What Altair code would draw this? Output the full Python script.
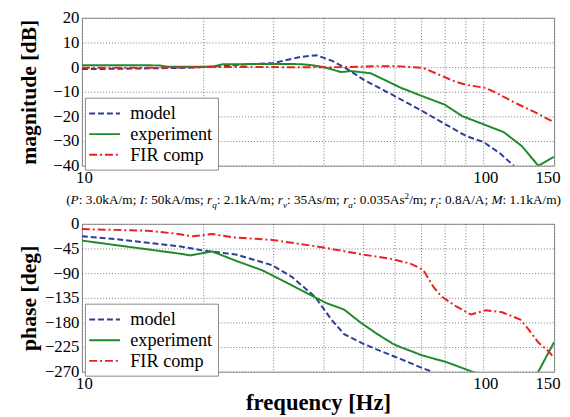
import altair as alt
import pandas as pd

# ---------------- data ----------------
series_names = ["model", "experiment", "FIR comp"]
series_colors = ["#2c3f98", "#1f8a2e", "#e8231f"]
series_dashes = [[6, 3], [1, 0], [8, 3, 2, 3]]

# magnitude [dB]
mag_model_f = [10, 12, 15, 18, 20, 25, 30, 35, 38.4, 42, 45, 50.4, 59.7, 70.7, 80, 90.7, 100, 110, 119]
mag_model_v = [-0.8, -0.7, -0.5, -0.3, 0, 1.0, 1.7, 4.1, 4.8, 2.5, 0, -5.2, -11.5, -18, -23, -28, -30.4, -35, -40]

mag_exp_f = [10, 15.5, 16.5, 21, 22.5, 25, 30, 35, 37.3, 40, 44.2, 46.8, 52.4, 58.6, 62.1, 70.7, 80, 88.6, 103, 112.4, 124.5, 137, 150]
mag_exp_v = [0.8, 0.7, 0.1, 0.1, 1.2, 1.2, 1.3, 1.2, 0.8, 0, -2, -1.6, -2.5, -6.3, -8.3, -11.9, -15.2, -19.9, -24, -26.4, -32, -40, -36.4]

mag_fir_f = [10, 15, 20, 25, 30, 38.8, 45, 50, 55, 62, 70.7, 77.8, 85, 90.7, 101.6, 107.4, 120, 134.7, 150]
mag_fir_v = [-0.3, -0.3, 0, 0, 0, -0.1, 0, 0.2, 0.4, 0.3, -0.3, -3.2, -5.9, -7.2, -8.5, -10.4, -14.5, -18.4, -22.4]

# phase [deg]
ph_model_f = [10, 12.05, 17.6, 20, 24.2, 29.8, 33.3, 38, 41.8, 45, 50.4, 58.6, 62.1, 69.5, 74.4]
ph_model_v = [-22.8, -27.6, -41.4, -48.6, -56, -75.6, -96.6, -132.6, -174.6, -201.6, -219.6, -239.4, -246.6, -261.6, -270]

ph_exp_f = [10, 17.6, 18.6, 21.1, 24.2, 28.1, 32, 38.4, 40.6, 45, 49.5, 54.5, 59.7, 62.1, 70.7, 81, 93.8, 110, 125, 137, 150]
ph_exp_v = [-30.6, -54.6, -57.6, -50.4, -67.5, -84.6, -105.6, -135.6, -144.6, -156.6, -180.6, -201.6, -219.6, -225, -240.6, -252.6, -270, -285, -290, -270, -216]

ph_fir_f = [10, 14.6, 16.9, 18.9, 21.1, 23.7, 29.8, 39.5, 50.4, 58.6, 65.8, 70.8, 75, 78.6, 85.5, 93.1, 101.4, 111.4, 123.5, 129.5, 137, 145, 150]
ph_fir_v = [-9.6, -12.6, -17.4, -22.8, -18.6, -24.6, -29.4, -42.6, -56.4, -63.6, -72.6, -84, -114.6, -132.6, -150.6, -165.6, -157.8, -161.4, -174.6, -192.6, -216.6, -232, -245]

x_grid_values = [10, 20, 30, 40, 50, 60, 70, 80, 90, 100, 150]
mag_ticks = [-40, -30, -20, -10, 0, 10, 20]
ph_ticks = [-270, -225, -180, -135, -90, -45, 0]

caption_segments = [
    ("(", "n"), ("P", "i"), (": 3.0kA/m; ", "n"), ("I", "i"), (": 50kA/ms; ", "n"),
    ("r", "i"), ("q", "sub"), (": 2.1kA/m; ", "n"),
    ("r", "i"), ("v", "sub"), (": 35As/m; ", "n"),
    ("r", "i"), ("a", "sub"), (": 0.035As", "n"), ("2", "sup"), ("/m; ", "n"),
    ("r", "i"), ("i", "sub"), (": 0.8A/A; ", "n"),
    ("M", "i"), (": 1.1kA/m)", "n"),
]

# ---------------- build tables ----------------
def long_table(parts):
    rows = []
    for name, fs, vs in parts:
        for f, v in zip(fs, vs):
            rows.append({"series": name, "f": f, "v": v})
    return pd.DataFrame(rows)

df_mag = long_table([("model", mag_model_f, mag_model_v),
                     ("experiment", mag_exp_f, mag_exp_v),
                     ("FIR comp", mag_fir_f, mag_fir_v)])
df_ph = long_table([("model", ph_model_f, ph_model_v),
                    ("experiment", ph_exp_f, ph_exp_v),
                    ("FIR comp", ph_fir_f, ph_fir_v)])

# caption layout (Times/Liberation Serif metrics, per 1000 em)
W_REG = {"(": 333, ")": 333, ":": 278, ";": 278, ".": 250, "/": 278, " ": 250,
         "A": 722, "I": 333, "M": 889, "P": 556, "a": 444, "k": 500, "m": 778,
         "r": 333, "s": 389, "q": 500, "v": 500, "i": 278}
W_IT = {"P": 611, "I": 333, "M": 833, "r": 389, "q": 500, "v": 444, "a": 500, "i": 278}
CAP_FS = 13.5
SUB_FS = 9.2

def seg_width(text, style):
    fs = CAP_FS if style in ("n", "i") else SUB_FS
    tbl = W_IT if style in ("i", "sub") else W_REG
    return sum(tbl.get(c, W_REG.get(c, 500)) for c in text) / 1000.0 * fs

widths = [seg_width(t, s) for t, s in caption_segments]
total_w = sum(widths)
PLOT_W = 479
PLOT_H = 150
start = 235 - total_w / 2
cap_rows = []
acc = start
for (t, s), w in zip(caption_segments, widths):
    cap_rows.append({"seg": t, "style": s, "xpx": acc})
    acc += w
df_cap = pd.DataFrame(cap_rows)

SERIF = "Liberation Serif, Times New Roman, Times, serif"

def legend():
    return alt.Legend(
        title=None, orient="none", legendX=3, legendY=81,
        fillColor="white", strokeColor="#888888", padding=5,
        labelFont=SERIF, labelFontSize=18.5, labelColor="black",
        symbolType="M-1.6,0L1.6,0", symbolSize=380, symbolStrokeWidth=2,
        symbolFillColor="transparent", symbolOffset=4, labelOffset=15, rowPadding=0,
    )

def panel(df, ytitle, ydomain, yticks, xtitle):
    xaxis_kwargs = dict(
        values=x_grid_values,
        labelExpr="(datum.value == 10 || datum.value == 100 || datum.value == 150) ? datum.label : ''",
        labelAlign={"condition": {"test": "datum.value == 150", "value": "right"}, "value": "center"},
        labelOffset={"condition": {"test": "datum.value == 150", "value": 6}, "value": 2},
        grid=True, ticks=False, domain=False, labelPadding=4,
        labelFlush=False, labelOverlap=False,
        labelFont=SERIF, labelFontSize=17, labelColor="black",
        gridColor="#777777", gridDash=[1, 2], gridWidth=1,
    )
    if xtitle:
        xaxis = alt.Axis(title=xtitle, titlePadding=0, titleFont=SERIF, titleFontSize=23,
                         titleFontWeight="bold", titleColor="black", **xaxis_kwargs)
    else:
        xaxis = alt.Axis(title=None, **xaxis_kwargs)
    yaxis = alt.Axis(values=yticks, title=ytitle, grid=True, ticks=False, domain=False,
                     labelPadding=3, titleAngle=270, titleX=-54, titleY=PLOT_H / 2,
                     titleAlign="center", titleBaseline="middle",
                     labelFont=SERIF, labelFontSize=17, labelColor="black",
                     titleFont=SERIF, titleFontSize=22, titleFontWeight="bold", titleColor="black",
                     gridColor="#777777", gridDash=[1, 2], gridWidth=1)
    lines = alt.Chart(df).mark_line(strokeWidth=2, clip=True).encode(
        x=alt.X("f:Q", scale=alt.Scale(type="log", domain=[10, 150], nice=False), axis=xaxis),
        y=alt.Y("v:Q", scale=alt.Scale(domain=ydomain, nice=False, zero=False), axis=yaxis),
        color=alt.Color("series:N", scale=alt.Scale(domain=series_names, range=series_colors),
                        legend=legend()),
        strokeDash=alt.StrokeDash("series:N", scale=alt.Scale(domain=series_names, range=series_dashes),
                                  legend=legend()),
        order=alt.Order("f:Q"),
    )
    return lines

top = panel(df_mag, "magnitude [dB]", [-40, 20], mag_ticks, None)

cap_layers = []
for style in ["n", "i", "sub", "sup"]:
    fs = CAP_FS if style in ("n", "i") else SUB_FS
    dy = {"n": 0, "i": 0, "sub": 4, "sup": -5}[style]
    cap_layers.append(
        alt.Chart(df_cap).transform_filter(alt.datum.style == style).mark_text(
            align="left", baseline="alphabetic", font=SERIF, fontSize=fs,
            fontStyle="italic" if style in ("i", "sub") else "normal",
            dy=dy, color="black",
        ).encode(
            x=alt.X("xpx:Q", scale=None),
            y=alt.value(PLOT_H + 39),
            text="seg:N",
        )
    )

top_chart = alt.layer(top, *cap_layers).properties(width=PLOT_W, height=PLOT_H)
bottom_chart = panel(df_ph, "phase [deg]", [-270, 0], ph_ticks, "frequency [Hz]").properties(
    width=PLOT_W, height=PLOT_H)

chart = alt.vconcat(top_chart, bottom_chart, spacing=3).resolve_scale(
    color="independent", strokeDash="independent"
).resolve_legend(
    color="independent", strokeDash="independent"
).properties(
    padding={"left": 9, "top": -3, "right": 0, "bottom": 0},
    background="white",
).configure_view(
    stroke="#8c8c8c", strokeWidth=1
)

chart.save("out.html", embed_options={"renderer": "svg", "actions": False})
